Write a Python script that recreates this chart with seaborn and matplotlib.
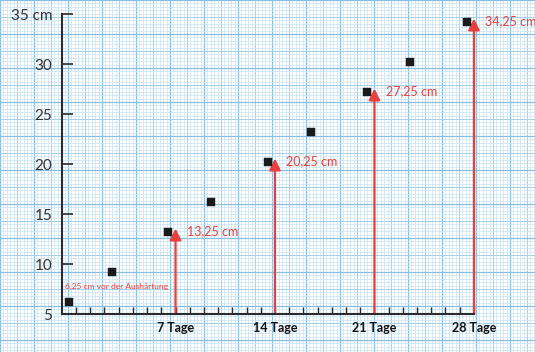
import numpy as np
import pandas as pd
import seaborn as sns
import matplotlib.pyplot as plt

# measured points (day, height in cm)
days = [-0.5, 2.5, 6.5, 9.5, 13.5, 16.5, 20.5, 23.5, 27.5]
heights = [6.25, 9.25, 13.25, 16.25, 20.25, 23.25, 27.25, 30.25, 34.25]

# red arrows at the weekly marks
arrow_days = [7, 14, 21, 28]
arrow_heights = [13.25, 20.25, 27.25, 34.25]
arrow_labels = ["13,25 cm", "20,25 cm", "27,25 cm", "34,25 cm"]

start_label = "6,25 cm vor der Aushärtung"
start_pos = (-0.8, 7.8)

y_ticks = [5, 10, 15, 20, 25, 30, 35]
y_tick_labels = ["5", "10", "15", "20", "25", "30", "35 cm"]
x_major = [7, 14, 21, 28]
x_major_labels = ["7 Tage", "14 Tage", "21 Tage", "28 Tage"]

red = "#e8403f"
ink = "#2b2b2b"

sns.set_theme(style="white")
plt.rcParams["font.family"] = ["Lato", "DejaVu Sans"]

W, H = 535, 352
fig = plt.figure(figsize=(W / 100, H / 100), dpi=100)

# graph paper background
bg = fig.add_axes([0, 0, 1, 1], zorder=0)
bg.set_facecolor("#ecf6fc")
bg.set_xlim(0, W)
bg.set_ylim(H, 0)
step = 3.4


def paper_style(i):
    if i % 10 == 0:
        return "#88bedf", 0.9
    if i % 5 == 0:
        return "#a6cfe8", 0.7
    return "#c6e2f2", 0.5


for i, x in enumerate(np.arange(0, W + step, step)):
    c, lw = paper_style(i)
    bg.axvline(x, color=c, lw=lw)
for i, y in enumerate(np.arange(0, H + step, step)):
    c, lw = paper_style(i)
    bg.axhline(y, color=c, lw=lw)
bg.axis("off")

ax = fig.add_axes([62 / W, 0, 473 / W, 1], zorder=1)
ax.set_facecolor("none")
ax.set_xlim(-0.99, 32.3)
ax.set_ylim(1.2, 36.4)

# arrows
for d, v, lab in zip(arrow_days, arrow_heights, arrow_labels):
    ax.annotate("", xy=(d, v + 0.3), xytext=(d, 5),
                arrowprops=dict(arrowstyle="-|>", color=red, lw=1.6,
                                mutation_scale=17, shrinkA=0, shrinkB=0),
                zorder=2)
    ax.annotate(lab, xy=(d, v), xytext=(8, 0), textcoords="offset points",
                color=red, fontsize=9, va="center", ha="left")

ax.text(start_pos[0], start_pos[1], start_label, color=red, fontsize=6,
        va="center", ha="left")

df = pd.DataFrame({"day": days, "height": heights})
sns.scatterplot(data=df, x="day", y="height", marker="s", s=34,
                color="#1a1a1a", edgecolor="#1a1a1a", linewidth=0.3,
                ax=ax, zorder=3, legend=False)

# axes styling
for side in ["top", "right"]:
    ax.spines[side].set_visible(False)
ax.spines["left"].set_bounds(5, 35)
ax.spines["bottom"].set_position(("data", 5))
ax.spines["bottom"].set_bounds(-0.99, 28)
for side in ["left", "bottom"]:
    ax.spines[side].set_color(ink)
    ax.spines[side].set_linewidth(1.5)

ax.set_yticks(y_ticks)
ax.set_yticklabels(y_tick_labels, fontsize=11, color="#333333")
ax.tick_params(axis="y", direction="in", length=8, width=1.2, color=ink, pad=7, left=True)

ax.set_xticks(x_major)
ax.set_xticklabels(x_major_labels, fontsize=9, fontweight="bold", color="#111111")
ax.set_xticks(range(0, 29), minor=True)
ax.tick_params(axis="x", which="both", direction="in", length=5, width=1, color=ink,
               pad=6, bottom=True)
ax.set_xlabel("")
ax.set_ylabel("")

fig.savefig("out.png", dpi=100)
